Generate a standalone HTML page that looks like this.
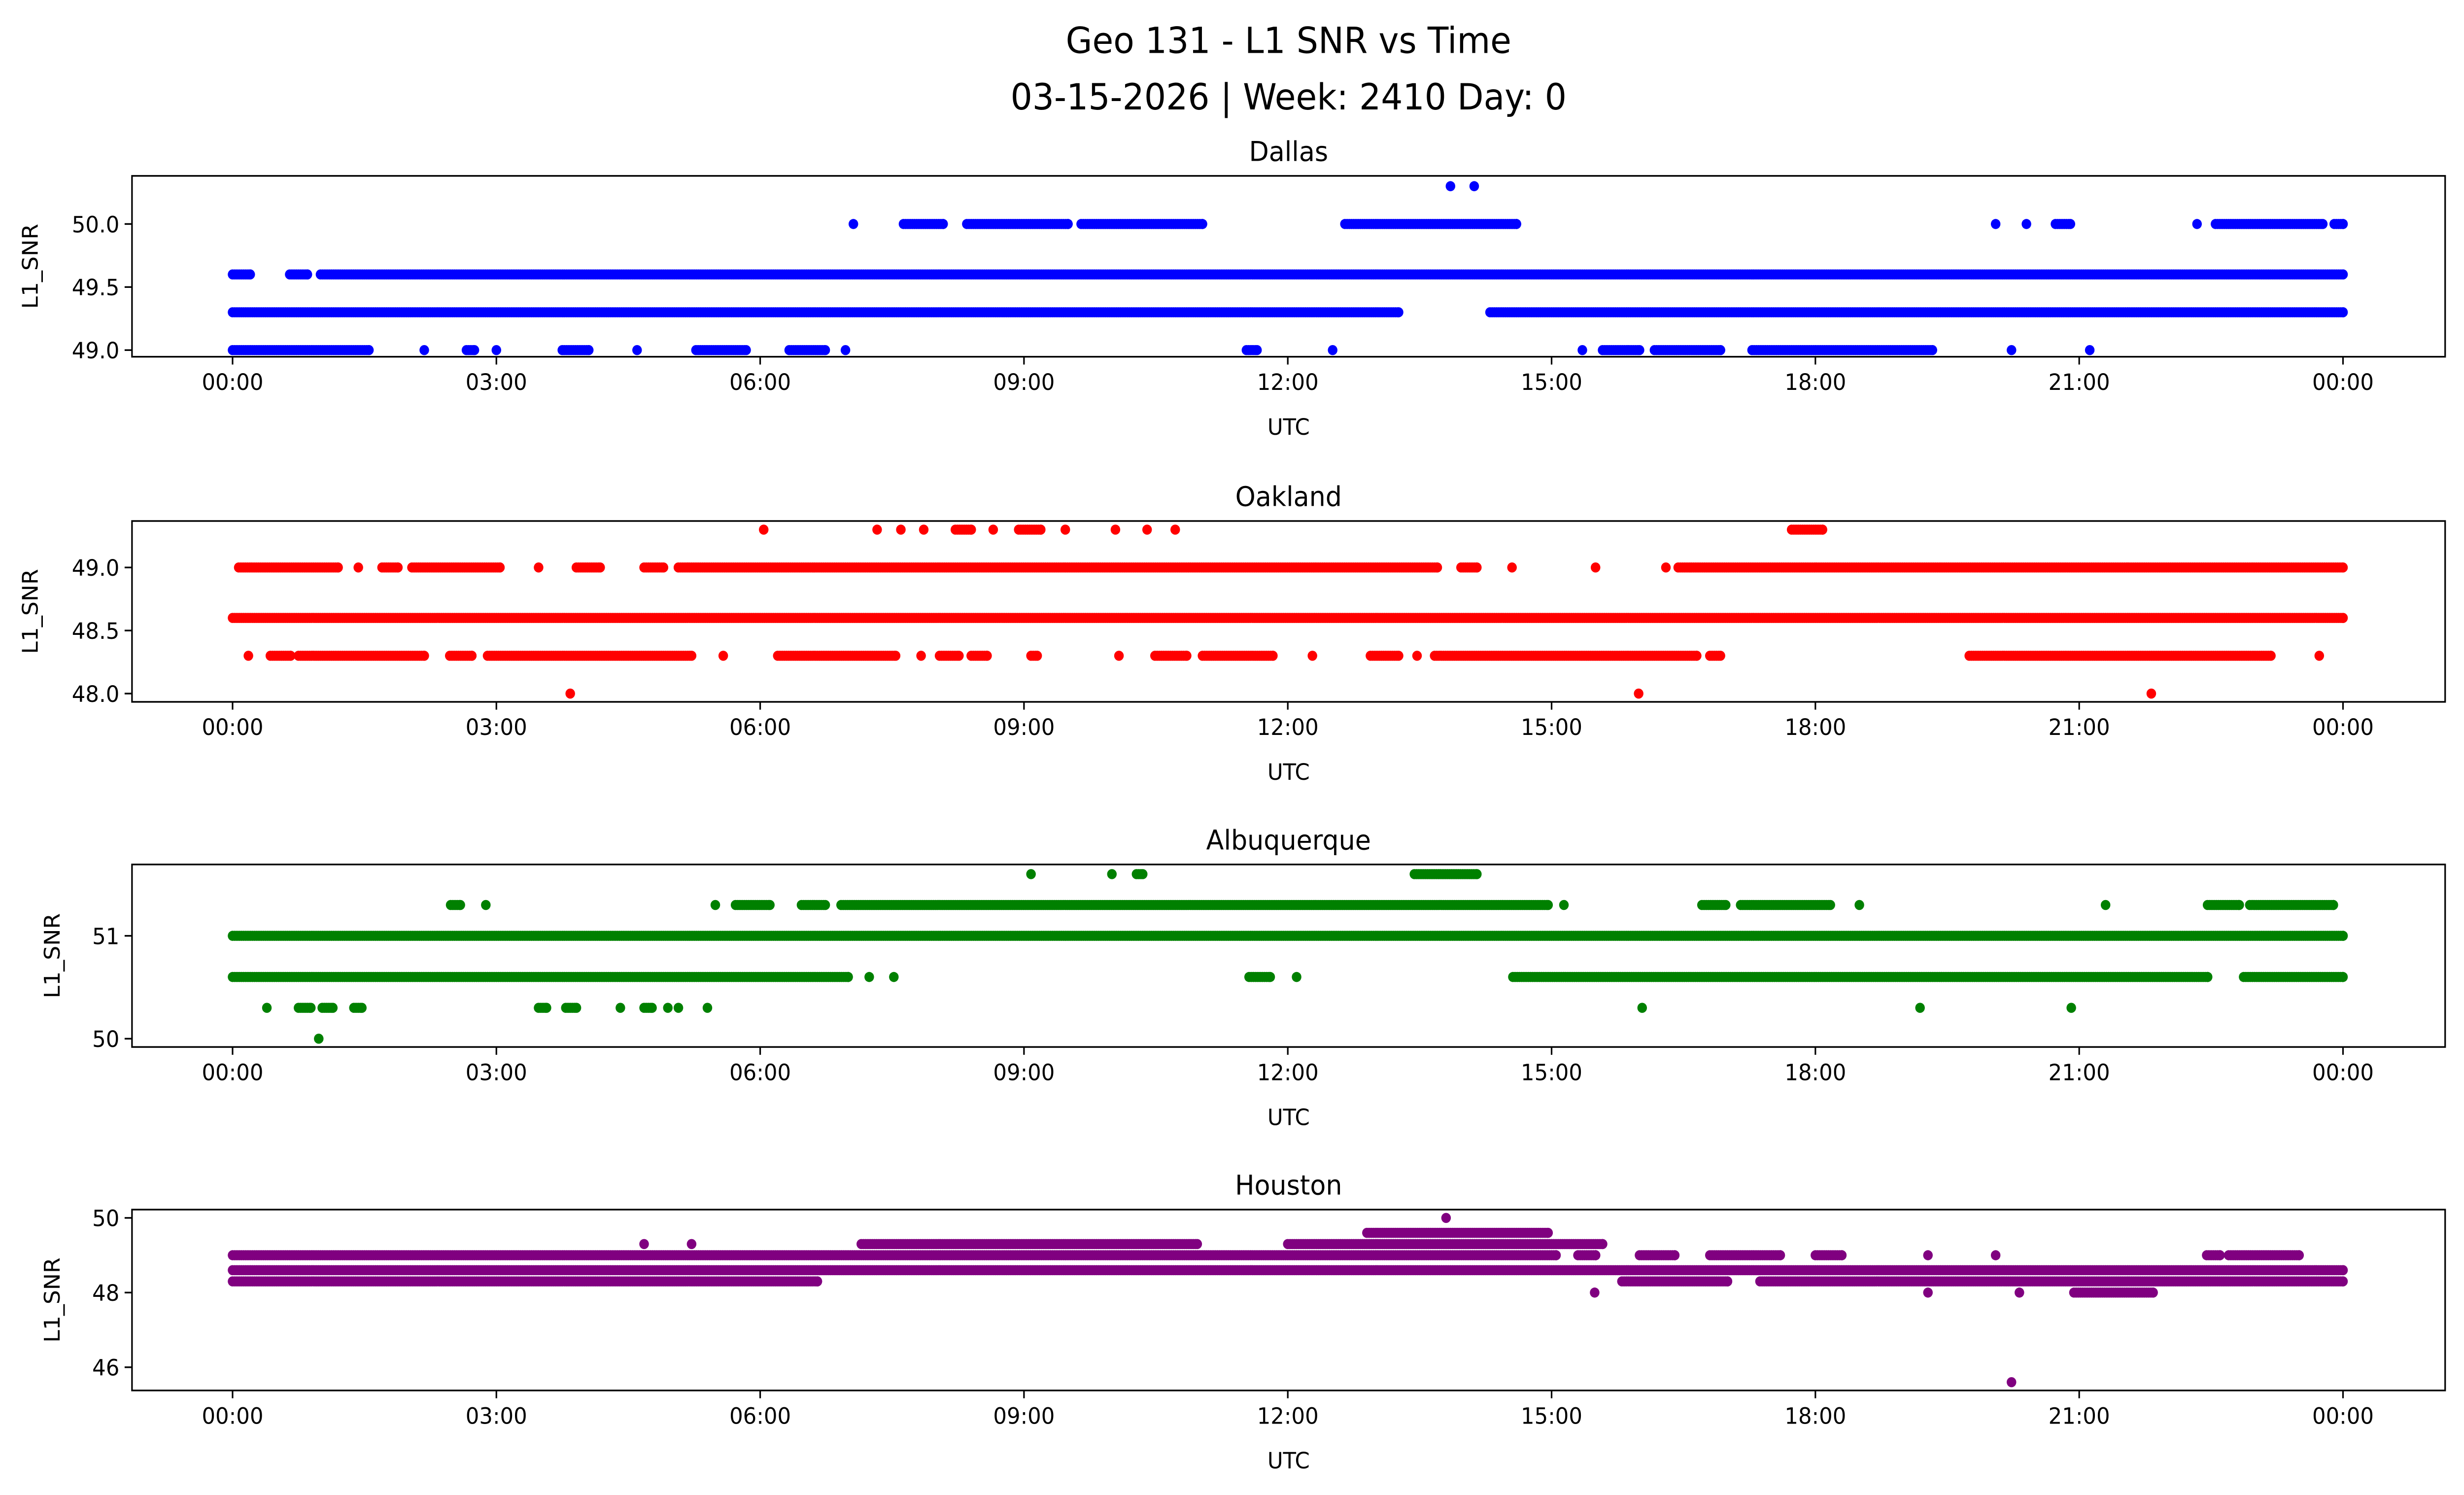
<!DOCTYPE html>
<html><head><meta charset="utf-8"><style>
html,body{margin:0;padding:0;background:#fff;width:100%;height:100%;overflow:hidden;}
svg{display:block;width:100vw;height:100vh;font-family:"DejaVu Sans","Liberation Sans",sans-serif;}
</style></head><body>
<svg id="fig" xmlns="http://www.w3.org/2000/svg" viewBox="0 0 1568 901" preserveAspectRatio="none">
<rect width="1568" height="901" fill="#fff"/>
<text x="820" y="32" font-size="21.8" text-anchor="middle">Geo 131 - L1 SNR vs Time</text>
<text x="820" y="66" font-size="21.8" text-anchor="middle">03-15-2026 | Week: 2410 Day: 0</text>
</svg>
<script>
// ---- data (hours UTC, segments [start,end] per SNR level) ----
const panelNames = ["Dallas","Oakland","Albuquerque","Houston"];
const panelColors = ["#0000ff","#ff0000","#008000","#800080"];
const xTickLabels = ["00:00","03:00","06:00","09:00","12:00","15:00","18:00","21:00","00:00"];
const xTickHours = [0,3,6,9,12,15,18,21,24];

const dallasTicks = [49.0,49.5,50.0];
const dallasTickLabels = ["49.0","49.5","50.0"];
const dallasLevels = [49.0,49.3,49.6,50.0,50.3];
const dallasSegs = [
 [[0,1.55],[2.18,2.18],[2.66,2.75],[3.0,3.0],[3.75,4.05],[4.6,4.6],[5.27,5.84],[6.33,6.74],[6.97,6.97],[11.53,11.65],[12.51,12.51],[15.35,15.35],[15.58,16.0],[16.17,16.92],[17.28,19.33],[20.23,20.23],[21.12,21.12]],
 [[0,13.26],[14.3,24]],
 [[0,0.2],[0.65,0.85],[1.0,24]],
 [[7.06,7.06],[7.63,8.08],[8.35,9.5],[9.65,11.03],[12.65,14.6],[20.05,20.05],[20.4,20.4],[20.73,20.9],[22.34,22.34],[22.55,23.77],[23.9,24]],
 [[13.85,13.85],[14.12,14.12]]
];

const oaklandTicks = [48.0,48.5,49.0];
const oaklandTickLabels = ["48.0","48.5","49.0"];
const oaklandLevels = [48.0,48.3,48.6,49.0,49.3];
const oaklandSegs = [
 [[3.84,3.84],[15.99,15.99],[21.82,21.82]],
 [[0.18,0.18],[0.43,0.66],[0.75,2.18],[2.47,2.72],[2.9,5.22],[5.58,5.58],[6.2,7.54],[7.83,7.83],[8.04,8.26],[8.4,8.58],[9.08,9.15],[10.08,10.08],[10.49,10.85],[11.03,11.83],[12.28,12.28],[12.94,13.26],[13.47,13.47],[13.67,16.65],[16.8,16.92],[19.75,23.18],[23.73,23.73]],
 [[0,24]],
 [[0.07,1.2],[1.43,1.43],[1.7,1.88],[2.04,3.04],[3.48,3.48],[3.91,4.18],[4.68,4.9],[5.07,13.7],[13.97,14.15],[14.55,14.55],[15.5,15.5],[16.3,16.3],[16.44,24]],
 [[6.04,6.04],[7.33,7.33],[7.6,7.6],[7.86,7.86],[8.22,8.4],[8.65,8.65],[8.94,9.19],[9.47,9.47],[10.04,10.04],[10.4,10.4],[10.72,10.72],[17.73,18.08]]
];

const albTicks = [50,51];
const albTickLabels = ["50","51"];
const albLevels = [50.0,50.3,50.6,51.0,51.3,51.6];
const albSegs = [
 [[0.98,0.98]],
 [[0.39,0.39],[0.75,0.89],[1.02,1.14],[1.38,1.47],[3.48,3.57],[3.79,3.91],[4.41,4.41],[4.68,4.77],[4.95,4.95],[5.07,5.07],[5.4,5.4],[16.03,16.03],[19.19,19.19],[20.91,20.91]],
 [[0,7.0],[7.24,7.24],[7.52,7.52],[11.56,11.8],[12.1,12.1],[14.56,22.46],[22.87,24]],
 [[0,24]],
 [[2.48,2.59],[2.88,2.88],[5.49,5.49],[5.72,6.11],[6.47,6.74],[6.92,14.96],[15.14,15.14],[16.71,16.98],[17.15,18.17],[18.5,18.5],[21.3,21.3],[22.46,22.82],[22.94,23.89]],
 [[9.08,9.08],[10.0,10.0],[10.28,10.35],[13.44,14.15]]
];

const houTicks = [46,48,50];
const houTickLabels = ["46","48","50"];
const houLevels = [45.6,48.0,48.3,48.6,49.0,49.3,49.6,50.0];
const houSegs = [
 [[20.23,20.23]],
 [[15.49,15.49],[19.28,19.28],[20.32,20.32],[20.94,21.84]],
 [[0,6.65],[15.8,17.0],[17.37,24]],
 [[0,24]],
 [[0,15.05],[15.3,15.5],[16.0,16.4],[16.8,17.6],[18.0,18.3],[19.28,19.28],[20.05,20.05],[22.45,22.6],[22.7,23.5]],
 [[4.68,4.68],[5.22,5.22],[7.15,10.97],[12.0,15.58]],
 [[12.9,14.96]],
 [[13.8,13.8]]
];

// ---- layout ----
const NS = "http://www.w3.org/2000/svg";
const svg = document.getElementById("fig");
const AX_L = 84, AX_R = 1556;
const X0 = 148, X24 = 1491;
function xScale(h){ return X0 + (X24 - X0) * h / 24; }
const panels = [
 {top:106,bottom:215,v0:49.0,p0:211,v1:50.0,p1:135,ticks:dallasTicks,tl:dallasTickLabels,levels:dallasLevels,segs:dallasSegs,yl:24},
 {top:314,bottom:423,v0:48.0,p0:418,v1:49.0,p1:342,ticks:oaklandTicks,tl:oaklandTickLabels,levels:oaklandLevels,segs:oaklandSegs,yl:24},
 {top:521,bottom:631,v0:50,p0:626,v1:51,p1:564,ticks:albTicks,tl:albTickLabels,levels:albLevels,segs:albSegs,yl:38},
 {top:729,bottom:838,v0:46,p0:824,v1:50,p1:734,ticks:houTicks,tl:houTickLabels,levels:houLevels,segs:houSegs,yl:38}
];
function mk(tag, attrs, parent){
  const e = document.createElementNS(NS, tag);
  for (const k in attrs) e.setAttribute(k, attrs[k]);
  (parent || svg).appendChild(e);
  return e;
}
panels.forEach((p, i) => {
  const slug = panelNames[i].toLowerCase();
  const yScale = v => p.p0 + (v - p.v0) * (p.p1 - p.p0) / (p.v1 - p.v0);
  const g = mk("g", {});
  
  
  const t = mk("text", {x:820, y:p.top-9, "font-size":16.4, "text-anchor":"middle"}, g);
  
  
  t.textContent = panelNames[i];
  const pts = mk("g", {fill:panelColors[i]}, g);
  
  
  const step = 1/40;
  p.levels.forEach((lv, li) => {
    const y = yScale(lv);
    p.segs[li].forEach(seg => {
      for (let h = seg[0]; h <= seg[1] + 1e-9; h += step) {
        const c = mk("circle", {cx:xScale(h).toFixed(2), cy:y.toFixed(2), r:3.05}, pts);
        
        
      }
      if (seg[1] > seg[0]) {
        const c = mk("circle", {cx:xScale(seg[1]).toFixed(2), cy:y.toFixed(2), r:3.05}, pts);
        
        
      }
    });
  });
  const fr = mk("rect", {x:AX_L, y:p.top, width:AX_R-AX_L, height:p.bottom-p.top, fill:"none", stroke:"#000", "stroke-width":1}, g);
  
  
  xTickHours.forEach((h, k) => {
    const x = xScale(h);
    mk("line", {x1:x, x2:x, y1:p.bottom, y2:p.bottom+4.7, stroke:"#000", "stroke-width":1}, g);
    const lb = mk("text", {x:x, y:p.bottom+20, "font-size":13.6, "text-anchor":"middle"}, g);
    
    
    lb.textContent = xTickLabels[k];
  });
  const xl = mk("text", {x:820, y:p.bottom+47, "font-size":13.6, "text-anchor":"middle"}, g);
  
  
  xl.textContent = "UTC";
  p.ticks.forEach((v, k) => {
    const y = yScale(v);
    mk("line", {x1:AX_L-4.7, x2:AX_L, y1:y, y2:y, stroke:"#000", "stroke-width":1}, g);
    const lb = mk("text", {x:AX_L-8, y:y+5, "font-size":13.6, "text-anchor":"end"}, g);
    
    
    lb.textContent = p.tl[k];
  });
  const yc = (p.top + p.bottom) / 2;
  const yl = mk("text", {x:0, y:0, "font-size":13.6, "text-anchor":"middle", transform:`translate(${p.yl},${yc}) rotate(-90)`}, g);
  
  
  yl.textContent = "L1_SNR";
});
</script>
</body></html>
